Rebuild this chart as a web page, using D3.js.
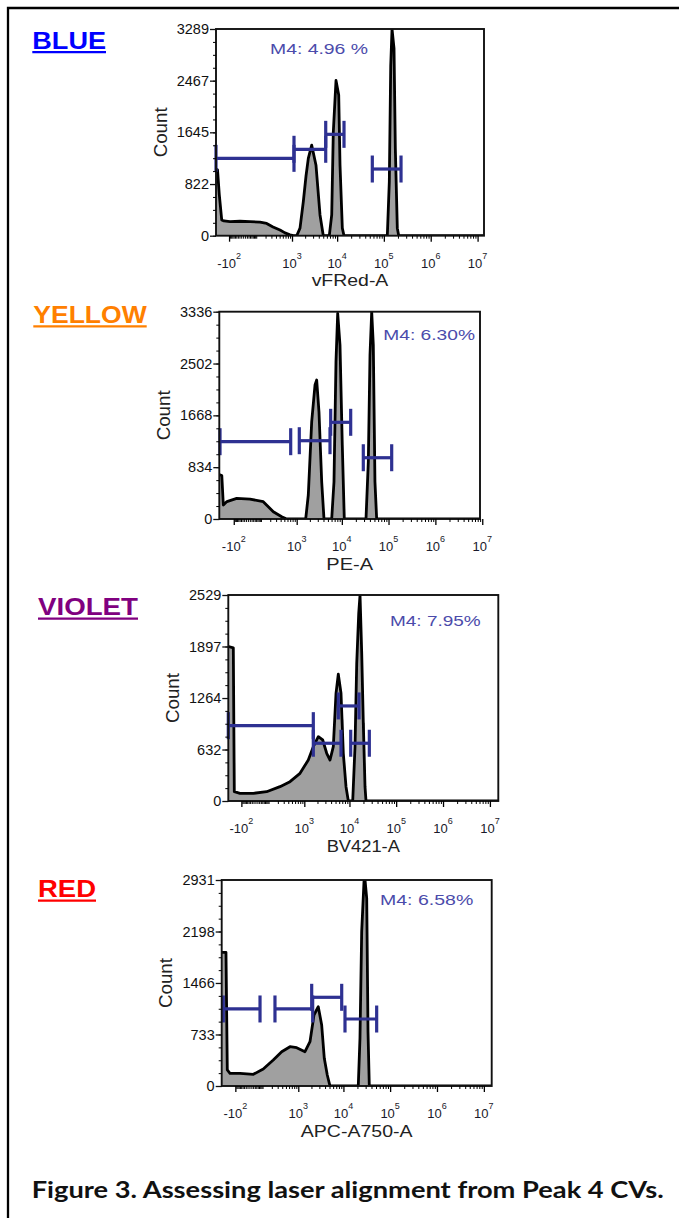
<!DOCTYPE html>
<html>
<head>
<meta charset="utf-8">
<script src="https://cdn.jsdelivr.net/npm/d3@7"></script>
<style>
  body { margin: 0; background: #fff; }
  svg { display: block; font-family: Arial, "Liberation Sans", sans-serif; }
</style>
</head>
<body>
<div id="chart"></div>
<script>
// ---------------- data ----------------
const laserNames = ["BLUE", "YELLOW", "VIOLET", "RED"];
const laserColors = ["#0000ff", "#ff8000", "#800080", "#ff0000"];
const channelNames = ["vFRed-A", "PE-A", "BV421-A", "APC-A750-A"];
const m4Labels = ["M4: 4.96 %", "M4: 6.30%", "M4: 7.95%", "M4: 6.58%"];

// y tick labels (count axis) of each panel, bottom to top
const yTicks = [
  [0, 822, 1645, 2467, 3289],
  [0, 834, 1668, 2502, 3336],
  [0, 632, 1264, 1897, 2529],
  [0, 733, 1466, 2198, 2931]
];
// visible range of the biexponential x axis
const xRanges = [[-280, 1.37e7], [-307, 8.95e6], [-280, 1.51e7], [-291, 1.47e7]];
const xMajor = [-100, 1e3, 1e4, 1e5, 1e6, 1e7];
const xMajorExp = ["2", "3", "4", "5", "6", "7"];

// histograms: [intensity, count]
const blueHist = [[-400,1100],[-253,1050],[-223,650],[-187,250],[-157,235],[-91,225],[-17,230],[40,225],[128,215],[217,195],[333,140],[510,90],[680,45],[897,15],[1073,0],[1286,0],[1530,120],[1816,540],[2089,950],[2351,1230],[2796,1440],[3476,1120],[4253,330],[5017,0],[6772,0],[7633,330],[8262,1650],[9450,2470],[10808,2240],[11530,1120],[12920,120],[14050,0],[118600,0],[130900,860],[140200,2700],[149500,3289],[164900,2980],[175800,1390],[193900,120],[207700,0],[3e7,0]];
const yellowHist = [[-400,735],[-260,700],[-234,225],[-180,280],[-73,333],[11,320],[113,278],[249,117],[427,37],[573,0],[1612,0],[1845,386],[2199,1566],[2603,2156],[2837,2237],[3189,1722],[3656,600],[4104,0],[6039,0],[6772,600],[7478,2530],[8143,3310],[9130,2800],[10230,1190],[11300,0],[33000,0],[37000,920],[40200,2640],[43700,3336],[47300,2800],[51300,600],[55800,0],[3e7,0]];
const violetHist = [[-400,1916],[-197,1880],[-183,114],[-114,94],[-11,94],[73,114],[233,176],[445,237],[791,340],[1238,503],[1612,667],[2089,790],[2617,749],[3205,586],[3789,503],[4469,667],[5120,1322],[5740,1556],[6570,1322],[7366,586],[8427,176],[9450,0],[11750,0],[13170,667],[14330,1691],[15820,2305],[16870,2529],[18340,1814],[19850,954],[21580,176],[22670,0],[3e7,0]];
const redHist = [[-400,1902],[-217,1902],[-197,228],[-160,180],[-59,180],[21,166],[97,242],[222,370],[387,488],[632,559],[917,545],[1429,488],[1855,630],[2278,1010],[2837,1128],[3371,868],[3846,394],[4469,157],[5120,0],[20850,0],[22670,679],[24670,2196],[27670,2911],[29100,2931],[31600,2671],[33700,773],[35900,0],[3e7,0]];

// second (grey only) overlay visible in the violet panel
const violetShade = [[5740,0],[5900,1000],[7366,1000],[7500,0],[14330,0],[14500,960],[21580,960],[21800,0]];

// gates (markers): [from, to, level in counts]
const blueGates = [[-280,1113,1231],[1113,5660,1375],[5660,14050,1613],[56700,232600,1061]];
const yellowGates = [[-293,719,1244],[1150,5550,1260],[5740,15500,1556],[28900,116800,986]];
const violetGates = [[-280,1612,925],[1612,6570,709],[5740,16060,1167],[10640,26700,709]];
const redGates = [[-262,68,1096],[250,2131,1096],[2025,9180,1262],[10808,51600,953]];

const hists = [blueHist, yellowHist, violetHist, redHist];
const shades = [[], [], violetShade, []];
const gates = [blueGates, yellowGates, violetGates, redGates];

// ---------------- layout ----------------
const frames = [
  {left: 216,   top: 29,    right: 484,   bottom: 235.7},
  {left: 219.3, top: 311.7, right: 480,   bottom: 519},
  {left: 228.3, top: 595,   right: 498.3, bottom: 801},
  {left: 221.7, top: 880,   right: 491.7, bottom: 1086}
];
const headPos = [
  {x: 32.3, y: 48.6, w: 73.7},
  {x: 33.3, y: 322.7, w: 113.4},
  {x: 38, y: 615, w: 100},
  {x: 38, y: 897, w: 58}
];
const m4Pos = [
  {x: 270, y: 54.3, w: 98},
  {x: 383.3, y: 340, w: 91.7},
  {x: 390, y: 625.5, w: 90.7},
  {x: 380, y: 905, w: 93.3}
];
const xTitleW = [76.7, 46.7, 73.3, 111.7];

let svg = d3.select("#chart")
  .append("svg")
    .attr("width", 679)
    .attr("height", 1218);

// outer frame (top and left edges)
svg.append("path")
  .attr("d", "M8,1218V8H679")
  .attr("fill", "none")
  .attr("stroke", "#000")
  .attr("stroke-width", 2.3);

for (let i = 0; i < 4; i++) {
  let p = frames[i];
  let x = d3.scaleSymlog().constant(100).domain(xRanges[i]).range([p.left, p.right]);
  let y = d3.scaleLinear().domain([0, yTicks[i][4]]).range([p.bottom, p.top]);
  let g = svg.append("g");

  // heading
  let h = headPos[i];
  g.append("text")
    .text(laserNames[i])
    .attr("x", h.x)
    .attr("y", h.y)
    .attr("fill", laserColors[i])
    .attr("font-size", 24)
    .attr("font-weight", "bold")
    .attr("textLength", h.w)
    .attr("lengthAdjust", "spacingAndGlyphs");
  g.append("line")
    .attr("x1", h.x).attr("x2", h.x + h.w)
    .attr("y1", h.y + 3.6).attr("y2", h.y + 3.6)
    .attr("stroke", laserColors[i])
    .attr("stroke-width", 2.2);

  // clip to the plot frame
  g.append("clipPath").attr("id", "clip" + i)
    .append("rect")
      .attr("x", p.left).attr("y", p.top)
      .attr("width", p.right - p.left).attr("height", p.bottom - p.top);

  let area = d3.area()
    .x(d => x(d[0]))
    .y0(p.bottom)
    .y1(d => y(d[1]));
  let line = d3.line()
    .x(d => x(d[0]))
    .y(d => y(d[1]));

  let plot = g.append("g").attr("clip-path", "url(#clip" + i + ")");
  if (shades[i].length) {
    plot.append("path")
      .datum(shades[i])
      .attr("d", area)
      .attr("fill", "#a0a0a0");
  }
  plot.append("path")
    .datum(hists[i])
    .attr("d", area)
    .attr("fill", "#a0a0a0");
  plot.append("path")
    .datum(hists[i])
    .attr("d", line)
    .attr("fill", "none")
    .attr("stroke", "#000")
    .attr("stroke-width", 2.8)
    .attr("stroke-linejoin", "round");

  // gates
  let gg = g.selectAll(".gate" + i)
    .data(gates[i])
    .enter()
    .append("g");
  gg.append("line")
    .attr("x1", d => x(d[0])).attr("x2", d => x(d[1]))
    .attr("y1", d => y(d[2])).attr("y2", d => y(d[2]));
  gg.append("line")
    .attr("x1", d => x(d[0])).attr("x2", d => x(d[0]))
    .attr("y1", d => y(d[2]) - 13.5).attr("y2", d => y(d[2]) + 13.5);
  gg.append("line")
    .attr("x1", d => x(d[1])).attr("x2", d => x(d[1]))
    .attr("y1", d => y(d[2]) - 13.5).attr("y2", d => y(d[2]) + 13.5);
  gg.selectAll("line")
    .attr("stroke", "#2e3192")
    .attr("stroke-width", 3.2);

  // frame
  g.append("rect")
    .attr("x", p.left).attr("y", p.top)
    .attr("width", p.right - p.left).attr("height", p.bottom - p.top)
    .attr("fill", "none")
    .attr("stroke", "#111")
    .attr("stroke-width", 1.9);

  // y axis
  let yMinor = d3.range(0, 17).map(k => yTicks[i][4] * k / 16);
  g.append("g")
    .attr("transform", `translate(${p.left},0)`)
    .call(d3.axisLeft(y).tickValues(yMinor).tickSize(3).tickFormat(""))
    .call(a => a.select(".domain").remove());
  let ya = g.append("g")
    .attr("transform", `translate(${p.left},0)`)
    .call(d3.axisLeft(y).tickValues(yTicks[i]).tickSize(6).tickPadding(1).tickFormat(d3.format("d")));
  ya.select(".domain").remove();
  ya.selectAll("text")
    .attr("font-size", 14.5)
    .attr("font-family", "Arial, 'Liberation Sans', sans-serif")
    .attr("fill", "#111");
  ya.selectAll("line").attr("stroke", "#111").attr("stroke-width", 1.3);

  // x axis
  let xMinor = [];
  d3.range(-90, 100, 10).forEach(v => xMinor.push(v));
  [100, 1e3, 1e4, 1e5, 1e6].forEach(dec => {
    for (let m = 2; m < 10; m++) xMinor.push(m * dec);
  });
  g.append("g")
    .attr("transform", `translate(0,${p.bottom})`)
    .call(d3.axisBottom(x).tickValues(xMinor).tickSize(3).tickFormat(""))
    .call(a => a.select(".domain").remove());
  g.append("g")
    .attr("transform", `translate(0,${p.bottom})`)
    .call(d3.axisBottom(x).tickValues(xMajor).tickSize(6).tickFormat(""))
    .call(a => a.select(".domain").remove())
    .selectAll("line").attr("stroke-width", 1.3);

  let xl = g.selectAll(".xl" + i)
    .data(xMajor)
    .enter()
    .append("text")
      .attr("x", d => x(d))
      .attr("y", p.bottom + 31.8)
      .attr("text-anchor", "middle")
      .attr("fill", "#1a1a2a")
      .attr("font-size", 13);
  xl.append("tspan").text(d => d < 0 ? "-10" : "10");
  xl.append("tspan")
    .text((d, k) => xMajorExp[k])
    .attr("dy", -9)
    .attr("font-size", 9);

  // axis titles
  g.append("text")
    .text(channelNames[i])
    .attr("x", (p.left + p.right) / 2)
    .attr("y", p.bottom + 50.5)
    .attr("text-anchor", "middle")
    .attr("fill", "#222")
    .attr("font-size", 16.5)
    .attr("textLength", xTitleW[i])
    .attr("lengthAdjust", "spacingAndGlyphs");
  g.append("text")
    .text("Count")
    .attr("transform", `translate(${p.left - 49.5},${(p.top + p.bottom) / 2}) rotate(-90)`)
    .attr("text-anchor", "middle")
    .attr("fill", "#222")
    .attr("font-size", 18.5)
    .attr("textLength", 50)
    .attr("lengthAdjust", "spacingAndGlyphs");

  // M4 label
  let m = m4Pos[i];
  g.append("text")
    .text(m4Labels[i])
    .attr("x", m.x)
    .attr("y", m.y)
    .attr("fill", "#4b4bab")
    .attr("font-size", 15.5)
    .attr("textLength", m.w)
    .attr("lengthAdjust", "spacingAndGlyphs");
}

// caption
svg.append("text")
  .text("Figure 3. Assessing laser alignment from Peak 4 CVs.")
  .attr("x", 31.7)
  .attr("y", 1198)
  .attr("font-family", "Lato, 'Open Sans', sans-serif")
  .attr("font-weight", "bold")
  .attr("font-size", 22)
  .attr("fill", "#111")
  .attr("textLength", 632)
  .attr("lengthAdjust", "spacingAndGlyphs");
</script>
</body>
</html>
